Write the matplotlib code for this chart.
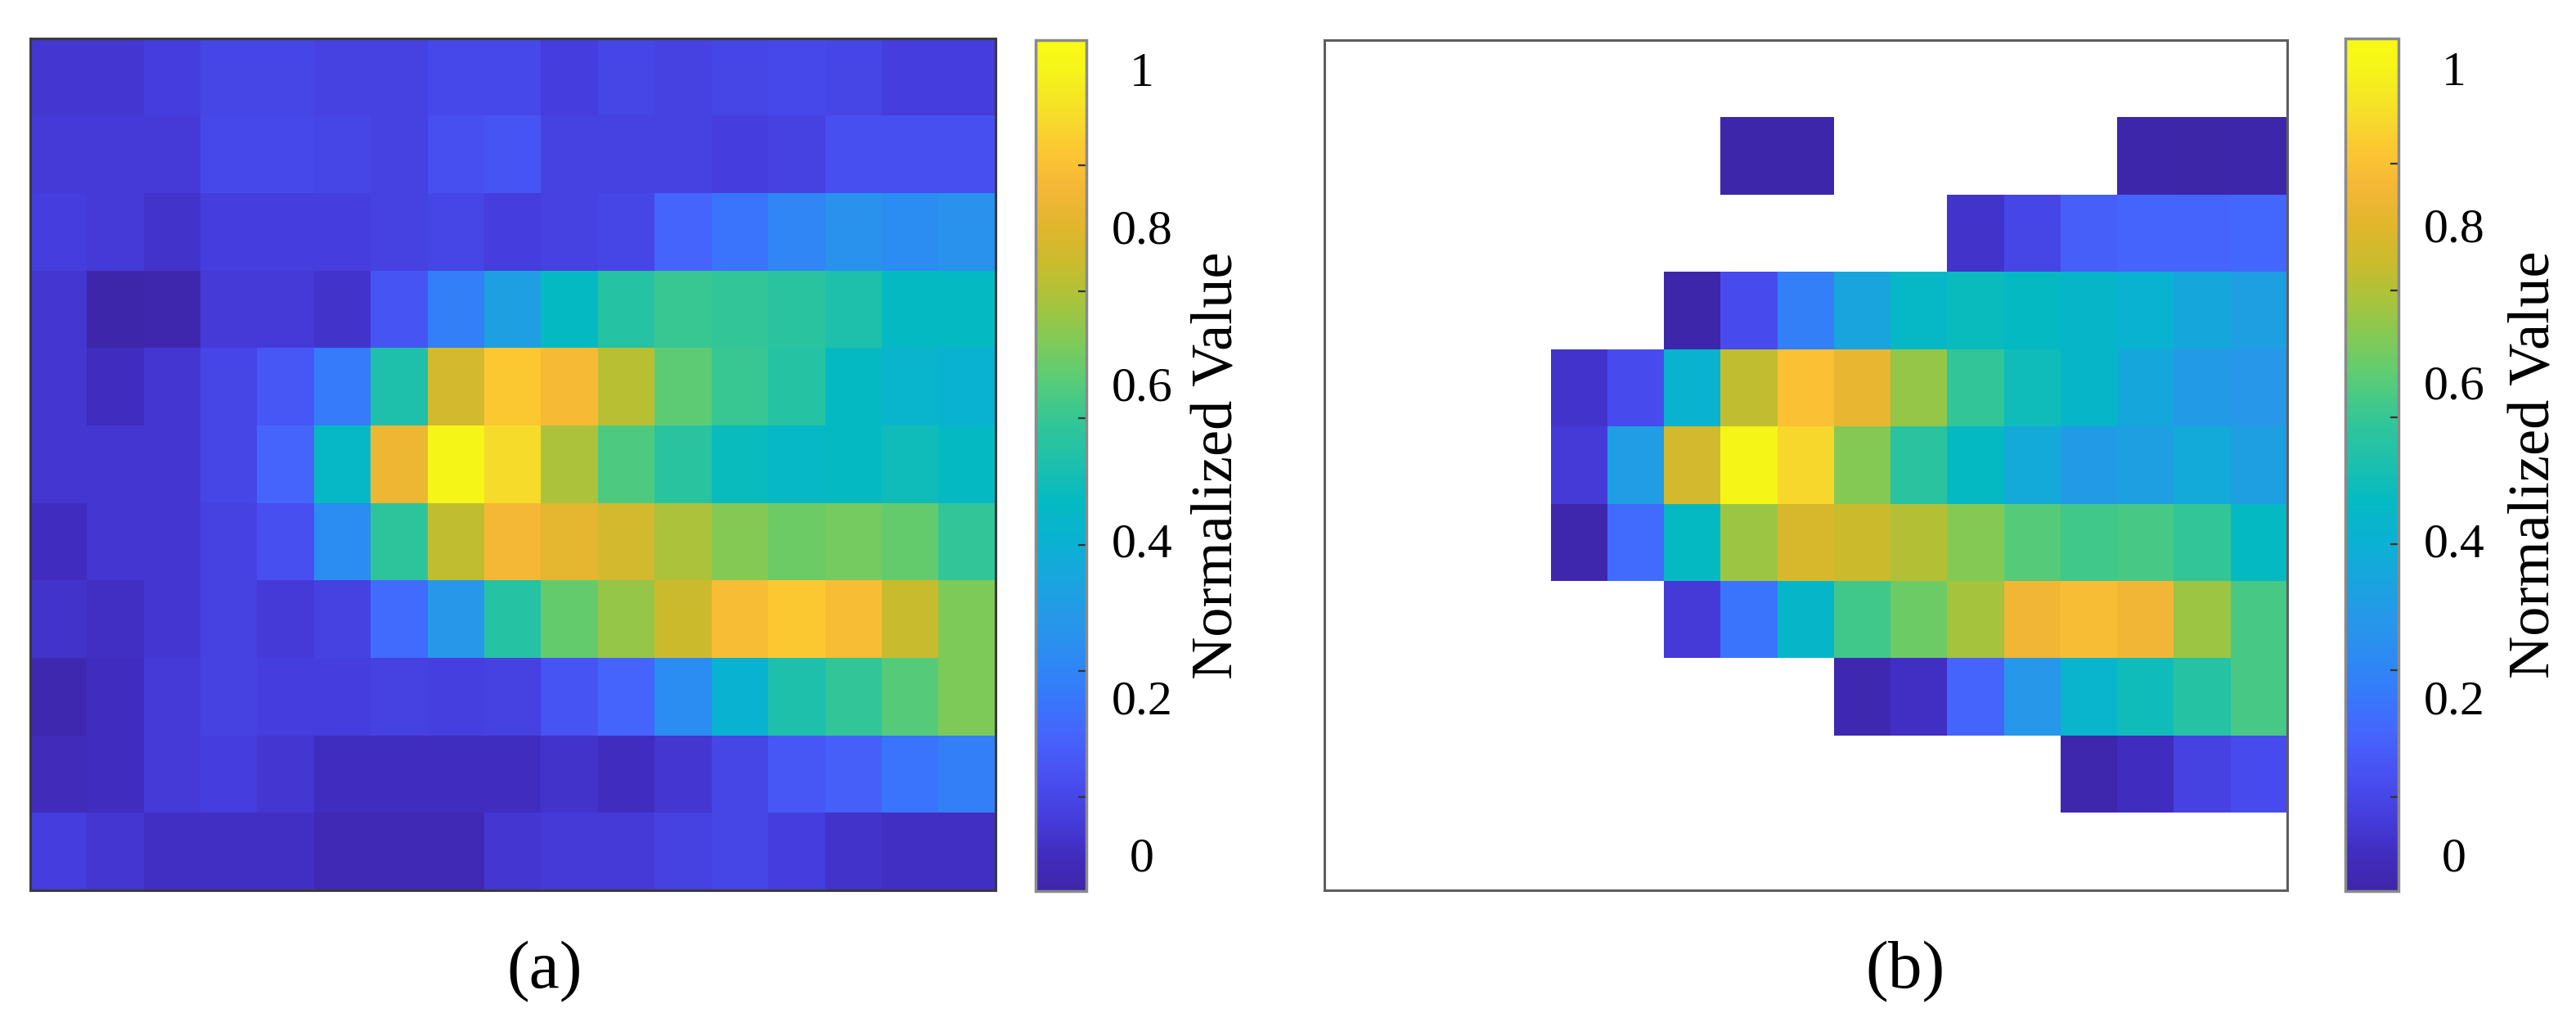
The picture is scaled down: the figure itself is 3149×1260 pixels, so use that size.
import numpy as np
import matplotlib
matplotlib.use("Agg")
import matplotlib.pyplot as plt
from matplotlib.colors import LinearSegmentedColormap, Normalize
from matplotlib.ticker import FixedLocator

plt.rcParams['font.family'] = ['Liberation Serif', 'DejaVu Serif']

n = np.nan
# ---- data (rows top -> bottom, 17 columns) ----
panel_a_values = [
    [0.03, 0.03, 0.05, 0.07, 0.07, 0.06, 0.06, 0.08, 0.08, 0.05, 0.07, 0.06, 0.07, 0.08, 0.07, 0.05, 0.05],
    [0.04, 0.04, 0.04, 0.08, 0.08, 0.07, 0.06, 0.10, 0.11, 0.06, 0.06, 0.06, 0.05, 0.06, 0.10, 0.10, 0.10],
    [0.05, 0.04, 0.02, 0.05, 0.05, 0.05, 0.06, 0.07, 0.05, 0.06, 0.07, 0.15, 0.19, 0.24, 0.28, 0.26, 0.28],
    [0.03, -0.04, -0.035, 0.04, 0.04, 0.02, 0.11, 0.22, 0.33, 0.45, 0.52, 0.56, 0.55, 0.53, 0.50, 0.45, 0.45],
    [0.03, 0.00, 0.03, 0.07, 0.12, 0.21, 0.50, 0.77, 0.90, 0.86, 0.73, 0.61, 0.56, 0.52, 0.45, 0.42, 0.40],
    [0.03, 0.03, 0.03, 0.07, 0.15, 0.44, 0.83, 1.00, 0.94, 0.71, 0.59, 0.53, 0.46, 0.44, 0.45, 0.47, 0.45],
    [0.00, 0.03, 0.03, 0.06, 0.10, 0.26, 0.54, 0.74, 0.85, 0.81, 0.77, 0.71, 0.66, 0.63, 0.64, 0.62, 0.55],
    [0.02, 0.01, 0.03, 0.06, 0.04, 0.06, 0.17, 0.30, 0.52, 0.62, 0.68, 0.76, 0.87, 0.90, 0.87, 0.75, 0.65],
    [-0.03, 0.00, 0.04, 0.06, 0.05, 0.05, 0.06, 0.055, 0.06, 0.11, 0.15, 0.26, 0.40, 0.50, 0.55, 0.60, 0.65],
    [-0.01, 0.00, 0.04, 0.05, 0.03, 0.00, 0.00, 0.00, 0.00, 0.02, 0.00, 0.03, 0.07, 0.12, 0.14, 0.19, 0.22],
    [0.05, 0.03, 0.01, 0.01, 0.01, -0.02, -0.02, -0.02, 0.03, 0.04, 0.04, 0.06, 0.07, 0.05, 0.02, 0.01, 0.01],
]

panel_b_values = [
    [n, n, n, n, n, n, n, n, n, n, n, n, n, n, n, n, n],
    [n, n, n, n, n, n, n, -0.04, -0.04, n, n, n, n, n, -0.04, -0.045, -0.04],
    [n, n, n, n, n, n, n, n, n, n, n, 0.02, 0.07, 0.14, 0.15, 0.15, 0.16],
    [n, n, n, n, n, n, -0.04, 0.09, 0.22, 0.35, 0.44, 0.46, 0.45, 0.43, 0.40, 0.36, 0.33],
    [n, n, n, n, 0.02, 0.09, 0.41, 0.74, 0.88, 0.82, 0.68, 0.55, 0.47, 0.43, 0.36, 0.31, 0.30],
    [n, n, n, n, 0.04, 0.32, 0.77, 1.00, 0.93, 0.66, 0.53, 0.45, 0.37, 0.31, 0.33, 0.37, 0.33],
    [n, n, n, n, -0.035, 0.17, 0.45, 0.69, 0.78, 0.76, 0.72, 0.66, 0.60, 0.57, 0.58, 0.55, 0.45],
    [n, n, n, n, n, n, 0.04, 0.19, 0.43, 0.57, 0.63, 0.70, 0.84, 0.87, 0.84, 0.69, 0.58],
    [n, n, n, n, n, n, n, n, n, -0.03, 0.01, 0.15, 0.30, 0.42, 0.47, 0.52, 0.58],
    [n, n, n, n, n, n, n, n, n, n, n, n, n, -0.035, 0.00, 0.06, 0.09],
    [n, n, n, n, n, n, n, n, n, n, n, n, n, n, n, n, n],
]

cbar_ticks = [0, 0.2, 0.4, 0.6, 0.8, 1.0]
cbar_ticklabels = ['0', '0.2', '0.4', '0.6', '0.8', '1']
cbar_marks = [0.073, 0.234, 0.394, 0.556, 0.717, 0.878]
cbar_label = 'Normalized Value'
panel_labels = ['(a)', '(b)']

# ---- colormap (parula-like) ----
VMIN, VMAX = -0.047, 1.0375
anchors = [
    (VMIN, (62, 38, 168)), (0.00, (65, 45, 192)), (0.05, (70, 62, 222)),
    (0.10, (72, 80, 242)), (0.15, (70, 100, 252)), (0.20, (55, 120, 252)),
    (0.25, (45, 138, 243)), (0.30, (38, 152, 233)), (0.35, (25, 165, 222)),
    (0.40, (10, 178, 210)), (0.45, (5, 186, 195)), (0.50, (30, 192, 172)),
    (0.55, (50, 198, 152)), (0.60, (85, 204, 122)), (0.65, (125, 203, 90)),
    (0.70, (165, 196, 62)), (0.75, (200, 188, 45)), (0.80, (225, 182, 45)),
    (0.85, (245, 183, 55)), (0.90, (252, 200, 50)), (0.95, (245, 225, 40)),
    (1.00, (245, 245, 25)), (VMAX, (249, 251, 20)),
]
cmap = LinearSegmentedColormap.from_list(
    'parula_like',
    [((v - VMIN) / (VMAX - VMIN), tuple(c / 255 for c in rgb)) for v, rgb in anchors],
    N=512)
cmap.set_bad('white')
norm = Normalize(vmin=VMIN, vmax=VMAX)

# ---- layout ----
W, H = 3149, 1260
fig = plt.figure(figsize=(W / 100, H / 100), dpi=100)


def rect(x0, y0, x1, y1):
    return [x0 / W, 1 - y1 / H, (x1 - x0) / W, (y1 - y0) / H]


ax_rects = [rect(37, 47, 1217, 1088), rect(1619, 49, 2796, 1088)]
cax_rects = [rect(1266, 49, 1328, 1089), rect(2867, 47, 2932, 1089)]
spine_colors = ['#3a3a3a', '#5e5e5e']
label_x = [666, 2329]

for data, arect, crect, lab, lx, sc in zip([panel_a_values, panel_b_values], ax_rects,
                                            cax_rects, panel_labels, label_x, spine_colors):
    ax = fig.add_axes(arect)
    arr = np.ma.masked_invalid(np.array(data, dtype=float))
    im = ax.imshow(arr, cmap=cmap, norm=norm, aspect='auto', interpolation='nearest')
    ax.set_xticks([])
    ax.set_yticks([])
    for sp in ax.spines.values():
        sp.set_color(sc)
        sp.set_linewidth(2.2)

    cax = fig.add_axes(crect)
    cb = fig.colorbar(im, cax=cax)
    cb.set_ticks(cbar_ticks, labels=cbar_ticklabels)
    cax.yaxis.set_minor_locator(FixedLocator(cbar_marks))
    cax.tick_params(which='major', length=0, pad=49, labelsize=43)
    cax.tick_params(which='minor', direction='in', length=7, width=1.6,
                    color='#333333', right=True, left=False)
    for t in cax.get_yticklabels():
        t.set_horizontalalignment('center')
    cb.outline.set_edgecolor('#8a8a8a')
    cb.outline.set_linewidth(2.5)
    cb.set_label(cbar_label, fontsize=52)
    cax.yaxis.set_label_coords(3.07, 0.5)

    fig.text(lx / W, 1 - 1188 / H, lab, ha='center', va='center', fontsize=60)

fig.savefig('out.png', dpi=100, facecolor='white')
